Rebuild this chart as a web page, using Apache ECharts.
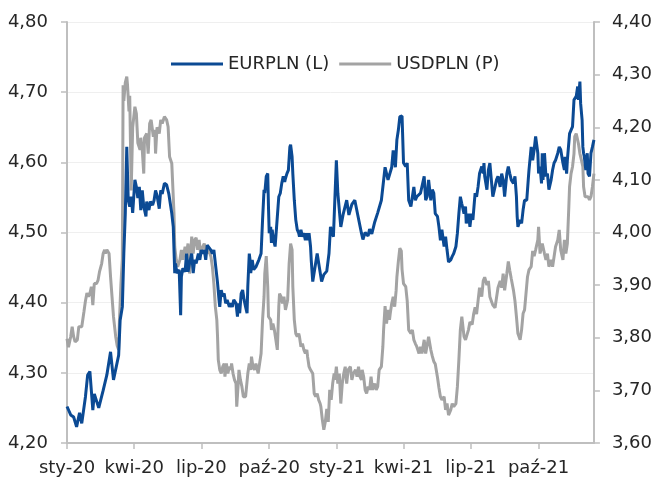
<!DOCTYPE html>
<html>
<head>
<meta charset="utf-8">
<script src="https://cdn.jsdelivr.net/npm/echarts@6/dist/echarts.min.js"></script>
<style>
html,body{margin:0;padding:0;background:#fff;}
#chart{width:655px;height:481px;}
</style>
</head>
<body>
<div id="chart"></div>
<script>
// Days counted from 2020-01-01
const eurDays = [0,5,9,13,17,20,25,28,31,35,37,43,49,54,59,63,66,70,72,75,77,79,81,83,85,87,89,92,94,96,98,100,102,104,107,108,111,113,116,118,120,122,125,127,129,132,135,138,142,144,146,147,149,152,154,155,157,160,162,164,166,169,171,173,175,178,180,182,184,186,188,190,192,195,197,199,202,204,206,207,209,211,213,215,217,220,222,224,226,229,231,232,234,236,238,240,242,244,245,247,248,249,251,253,256,258,260,263,265,267,268,270,272,273,274,276,277,278,280,282,284,286,287,289,291,293,295,296,298,300,302,303,305,306,308,310,312,314,315,317,319,321,323,325,326,328,330,331,333,336,339,342,345,348,352,355,357,359,361,365,367,371,374,379,382,386,390,394,399,401,404,408,410,413,417,421,426,431,433,435,440,442,445,447,449,451,454,456,459,461,463,466,468,470,472,474,479,484,486,488,490,493,495,497,499,502,504,506,508,511,513,515,517,520,522,524,527,529,531,533,535,538,540,541,544,546,548,550,553,555,557,559,562,564,565,566,569,571,573,575,577,580,582,584,587,589,591,593,596,598,600,602,605,607,609,610,611,614,616,618,620,623,625,626,629,631,633,635,638,639,641,643,644,645,647,649,651,653,656,658,660,662,665,667,669,672,674,675,677,678,681,683,685,687,690,692,693,695,696,698,699,700,701,703,705,706,708,710,712,714];
const eurpln = [4.252,4.240,4.237,4.223,4.243,4.228,4.266,4.297,4.302,4.247,4.270,4.250,4.275,4.297,4.330,4.290,4.305,4.325,4.375,4.394,4.470,4.527,4.622,4.546,4.537,4.551,4.528,4.575,4.565,4.549,4.565,4.532,4.560,4.537,4.523,4.544,4.532,4.544,4.539,4.546,4.560,4.553,4.534,4.560,4.555,4.570,4.568,4.555,4.527,4.508,4.442,4.456,4.442,4.447,4.382,4.437,4.449,4.444,4.470,4.444,4.456,4.470,4.442,4.461,4.456,4.470,4.461,4.475,4.470,4.475,4.461,4.482,4.480,4.475,4.470,4.475,4.447,4.428,4.404,4.394,4.418,4.409,4.413,4.399,4.404,4.394,4.399,4.394,4.404,4.399,4.380,4.399,4.385,4.413,4.418,4.404,4.394,4.385,4.423,4.470,4.461,4.442,4.461,4.447,4.451,4.456,4.461,4.470,4.518,4.561,4.556,4.580,4.584,4.537,4.499,4.508,4.485,4.504,4.489,4.480,4.508,4.537,4.551,4.556,4.570,4.580,4.572,4.577,4.584,4.589,4.622,4.625,4.608,4.584,4.546,4.518,4.504,4.499,4.494,4.504,4.494,4.499,4.489,4.499,4.489,4.499,4.480,4.460,4.430,4.450,4.470,4.450,4.430,4.440,4.445,4.470,4.508,4.500,4.494,4.603,4.556,4.508,4.525,4.546,4.525,4.540,4.546,4.525,4.499,4.490,4.500,4.495,4.505,4.498,4.515,4.528,4.546,4.593,4.584,4.575,4.593,4.617,4.593,4.632,4.646,4.665,4.666,4.599,4.594,4.599,4.546,4.537,4.537,4.565,4.546,4.551,4.556,4.580,4.546,4.551,4.575,4.546,4.561,4.556,4.527,4.523,4.508,4.489,4.504,4.480,4.494,4.475,4.458,4.461,4.466,4.470,4.480,4.499,4.527,4.551,4.541,4.527,4.537,4.513,4.527,4.508,4.527,4.518,4.556,4.551,4.565,4.584,4.594,4.584,4.599,4.580,4.561,4.589,4.599,4.575,4.551,4.565,4.575,4.580,4.565,4.584,4.575,4.551,4.584,4.594,4.584,4.575,4.570,4.580,4.551,4.523,4.508,4.518,4.513,4.532,4.546,4.546,4.575,4.589,4.622,4.603,4.618,4.637,4.613,4.584,4.594,4.570,4.613,4.575,4.613,4.580,4.584,4.561,4.575,4.589,4.599,4.603,4.613,4.622,4.618,4.599,4.589,4.608,4.584,4.603,4.641,4.646,4.651,4.689,4.694,4.708,4.689,4.715,4.684,4.660,4.622,4.613,4.608,4.589,4.613,4.584,4.580,4.613,4.622,4.632];

const usdDays = [0,2,5,7,9,11,14,16,18,20,23,25,27,29,31,33,35,37,40,42,44,47,49,51,52,54,57,59,61,63,66,68,70,71,73,75,76,77,79,81,82,84,85,87,89,92,94,96,99,100,102,104,105,108,110,112,114,117,119,120,122,125,127,129,132,135,137,139,142,144,145,146,148,150,153,155,157,160,162,164,166,169,171,173,175,177,179,181,184,186,188,190,192,195,197,199,201,203,204,205,207,209,211,213,214,216,218,220,222,223,225,227,229,230,232,233,235,237,239,240,242,245,247,249,250,252,254,256,258,259,261,263,265,267,268,270,272,273,276,277,279,281,283,285,287,288,290,292,294,296,297,299,301,303,305,306,308,310,312,314,315,317,319,321,323,325,326,328,330,332,333,335,337,339,341,343,344,346,348,350,352,354,356,358,360,362,363,365,367,369,371,373,375,377,379,381,382,384,386,388,390,391,393,395,397,399,400,402,404,406,408,410,412,414,417,419,421,423,426,428,429,431,433,435,437,438,440,442,444,446,447,449,451,453,454,456,459,461,463,466,468,470,472,474,477,479,481,484,486,488,490,493,495,497,499,502,504,506,508,511,513,515,517,520,522,524,527,529,531,533,535,538,540,542,544,546,549,551,553,555,557,559,562,564,566,569,571,573,575,577,580,582,584,587,589,591,593,596,598,600,602,605,607,609,611,614,616,618,620,622,624,626,629,631,633,635,638,639,641,643,644,647,649,651,653,656,658,660,662,665,667,669,672,674,676,678,680,681,683,685,687,688,690,691,693,695,697,699,700,702,704,706,708,710,712,714];
const usdpln = [3.798,3.782,3.802,3.821,3.802,3.792,3.796,3.821,3.824,3.821,3.850,3.870,3.885,3.878,3.884,3.897,3.862,3.903,3.903,3.909,3.925,3.941,3.960,3.967,3.960,3.967,3.960,3.916,3.878,3.840,3.802,3.785,3.777,3.830,3.900,3.950,4.280,4.250,4.285,4.296,4.280,4.230,4.260,4.080,4.200,4.239,4.226,4.170,4.157,4.180,4.157,4.112,4.180,4.188,4.150,4.207,4.214,4.182,4.195,4.150,4.200,4.188,4.214,4.207,4.220,4.214,4.201,4.144,4.131,4.131,4.036,3.973,3.948,3.935,3.948,3.967,3.948,3.973,3.960,3.979,3.922,3.992,3.960,3.986,3.990,3.967,3.986,3.960,3.973,3.979,3.967,3.960,3.967,3.954,3.935,3.903,3.859,3.834,3.802,3.758,3.739,3.732,3.745,3.751,3.726,3.751,3.732,3.745,3.739,3.751,3.732,3.720,3.713,3.669,3.713,3.739,3.720,3.707,3.688,3.688,3.688,3.732,3.751,3.739,3.764,3.745,3.739,3.751,3.739,3.732,3.751,3.770,3.834,3.878,3.922,3.955,3.897,3.840,3.834,3.815,3.827,3.815,3.796,3.777,3.859,3.884,3.878,3.865,3.878,3.853,3.859,3.872,3.941,3.979,3.967,3.897,3.834,3.808,3.802,3.808,3.802,3.783,3.789,3.777,3.770,3.777,3.764,3.745,3.739,3.739,3.732,3.694,3.688,3.694,3.682,3.675,3.669,3.644,3.625,3.640,3.665,3.640,3.701,3.682,3.713,3.732,3.720,3.745,3.713,3.732,3.675,3.713,3.732,3.745,3.713,3.739,3.739,3.745,3.720,3.732,3.732,3.739,3.726,3.745,3.726,3.720,3.739,3.726,3.701,3.694,3.707,3.701,3.726,3.701,3.713,3.701,3.707,3.739,3.745,3.783,3.815,3.860,3.827,3.853,3.834,3.846,3.865,3.878,3.859,3.890,3.915,3.945,3.970,3.965,3.930,3.903,3.897,3.870,3.815,3.808,3.815,3.796,3.789,3.783,3.770,3.783,3.770,3.796,3.770,3.770,3.802,3.777,3.765,3.755,3.750,3.725,3.705,3.688,3.682,3.688,3.663,3.675,3.653,3.663,3.675,3.669,3.675,3.707,3.758,3.815,3.840,3.802,3.796,3.795,3.815,3.830,3.825,3.845,3.858,3.845,3.870,3.895,3.878,3.908,3.915,3.900,3.908,3.878,3.870,3.862,3.857,3.860,3.895,3.908,3.895,3.922,3.890,3.922,3.945,3.928,3.912,3.890,3.870,3.840,3.808,3.796,3.815,3.846,3.853,3.855,3.916,3.929,3.935,3.965,3.955,3.967,3.986,4.011,3.960,3.973,3.979,3.960,3.948,3.960,3.935,3.948,3.935,3.954,3.973,3.986,4.005,3.967,3.948,3.986,3.960,3.979,4.049,4.087,4.112,4.125,4.150,4.182,4.188,4.182,4.169,4.150,4.138,4.125,4.087,4.068,4.065,4.068,4.062,4.068,4.087,4.112];

const tickDays = [0,91,182,274,366,456,547,639];
const tickLabels = ['sty-20','kwi-20','lip-20','paź-20','sty-21','kwi-21','lip-21','paź-21'];
const seriesNames = ['EURPLN (L)','USDPLN (P)'];

const zip = (xs, ys) => xs.map((x, i) => [x, ys[i]]);
const fmt = v => v.toFixed(2).replace('.', ',');
const FONT = 'DejaVu Sans';
const TXT = '#262626';
const AX = '#BFBFBF';

const chart = echarts.init(document.getElementById('chart'), null, {renderer: 'canvas'});
chart.setOption({
  animation: false,
  backgroundColor: '#fff',
  textStyle: {fontFamily: FONT},
  grid: {left: 67, right: 61, top: 22, bottom: 38, containLabel: false},
  legend: {
    data: seriesNames,
    left: 166, top: 50,
    icon: 'rect', itemWidth: 52, itemHeight: 3, itemGap: 10,
    textStyle: {fontSize: 18, color: TXT, fontFamily: FONT}
  },
  xAxis: {
    type: 'value', min: 0, max: 714,
    splitLine: {show: false},
    axisLine: {show: true, onZero: false, lineStyle: {color: AX, width: 2}},
    axisTick: {show: true, customValues: tickDays, length: 6, lineStyle: {color: AX, width: 1.5}},
    axisLabel: {
      customValues: tickDays, margin: 16, fontSize: 18, color: TXT, fontFamily: FONT,
      formatter: v => tickLabels[tickDays.indexOf(v)] || ''
    }
  },
  yAxis: [{
    type: 'value', min: 4.2, max: 4.8, interval: 0.1, position: 'left',
    axisLine: {show: true, lineStyle: {color: AX, width: 2}},
    axisTick: {show: true, length: 6, lineStyle: {color: AX, width: 1.5}},
    splitLine: {show: true, lineStyle: {color: '#EFEFEF', width: 1}},
    axisLabel: {formatter: fmt, fontSize: 18, color: TXT, margin: 19, fontFamily: FONT}
  }, {
    type: 'value', min: 3.6, max: 4.4, interval: 0.1, position: 'right',
    axisLine: {show: true, lineStyle: {color: AX, width: 2}},
    axisTick: {show: true, length: 6, lineStyle: {color: AX, width: 1.5}},
    splitLine: {show: false},
    axisLabel: {formatter: fmt, fontSize: 18, color: TXT, margin: 18, fontFamily: FONT}
  }],
  series: [{
    name: seriesNames[1], type: 'line', yAxisIndex: 1, z: 2,
    data: zip(usdDays, usdpln), showSymbol: false, symbol: 'none',
    lineStyle: {color: '#A3A3A3', width: 3}, itemStyle: {color: '#A3A3A3'}
  }, {
    name: seriesNames[0], type: 'line', yAxisIndex: 0, z: 3,
    data: zip(eurDays, eurpln), showSymbol: false, symbol: 'none',
    lineStyle: {color: '#0B4A94', width: 3}, itemStyle: {color: '#0B4A94'}
  }]
});
</script>
</body>
</html>
